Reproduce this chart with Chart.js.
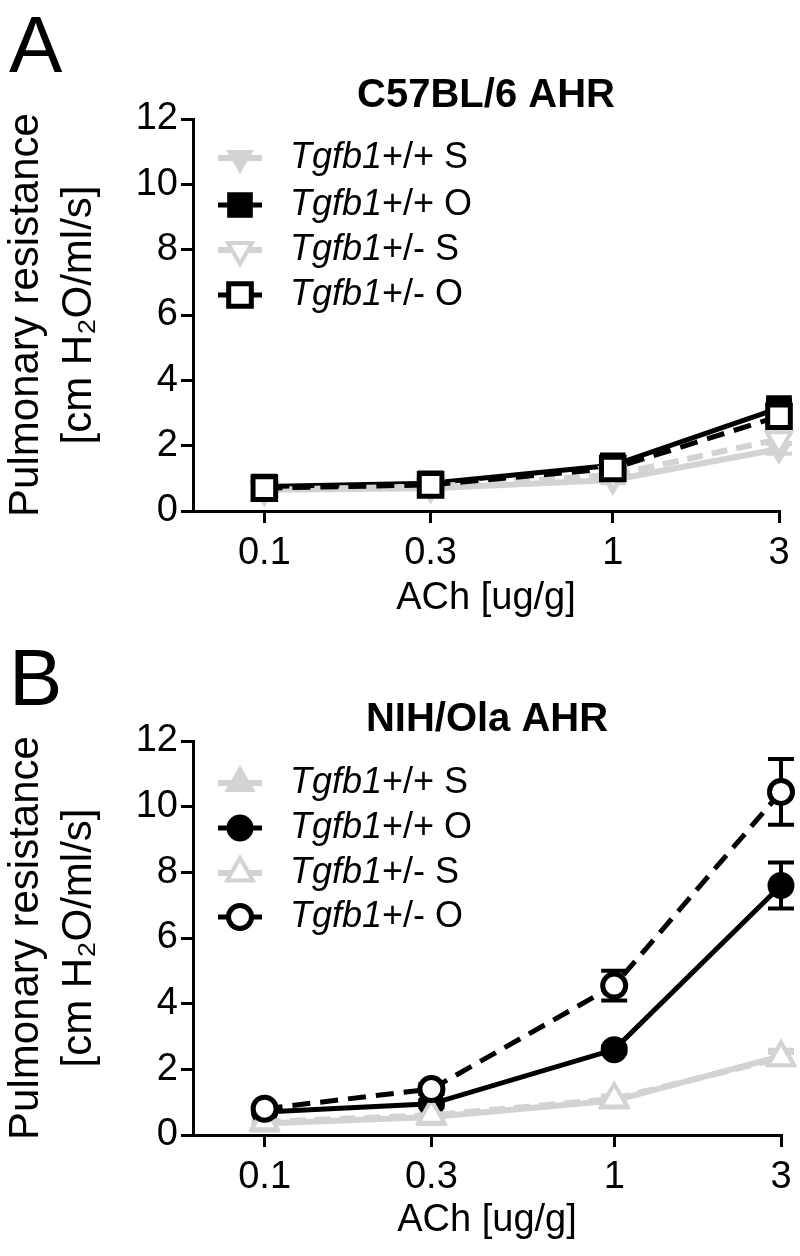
<!DOCTYPE html>
<html><head><meta charset="utf-8">
<script src="https://cdn.jsdelivr.net/npm/chart.js@4.4.1/dist/chart.umd.min.js"></script>
<style>
html,body{margin:0;padding:0;background:#fff;}
#wrap{position:relative;width:800px;height:1256px;}
.panel{position:absolute;left:0;width:800px;height:628px;}
canvas{display:block;}
</style></head><body>
<div id="wrap">
<div class="panel" style="top:0"><canvas id="cA" width="800" height="628"></canvas></div>
<div class="panel" style="top:628px"><canvas id="cB" width="800" height="628"></canvas></div>
</div>
<script>
// ---- data ----
const doses = [0.1, 0.3, 1, 3];
const xTickLabels = ['0.1', '0.3', '1', '3'];
const yTicks = [0, 2, 4, 6, 8, 10, 12];
const genePart = 'Tgfb1';
const seriesSuffix = ['+/+ S', '+/+ O', '+/- S', '+/- O'];

// Panel A: C57BL/6
const aWtS  = [0.65, 0.70, 0.95, 1.90];
const aWtO  = [0.75, 0.85, 1.40, 3.15];
const aHetS = [0.65, 0.75, 1.10, 2.20];
const aHetO = [0.70, 0.80, 1.30, 2.90];
const aWtSErr  = [0.05, 0.05, 0.10, 0.15];
const aWtOErr  = [0.05, 0.05, 0.10, 0.25];
const aHetSErr = [0.05, 0.05, 0.10, 0.15];
const aHetOErr = [0.05, 0.05, 0.10, 0.20];

// Panel B: NIH/Ola
const bWtS  = [0.35, 0.55, 1.05, 2.40];
const bWtO  = [0.70, 0.95, 2.60, 7.60];
const bHetS = [0.40, 0.60, 1.10, 2.35];
const bHetO = [0.80, 1.40, 4.55, 10.45];
const bWtSErr  = [0.05, 0.05, 0.10, 0.20];
const bWtOErr  = [0.05, 0.10, 0.10, 0.70];
const bHetSErr = [0.05, 0.05, 0.10, 0.15];
const bHetOErr = [0.10, 0.15, 0.45, 1.00];

const FONT = "'Liberation Sans', Arial, sans-serif";
const GRAY = '#d3d3d3';
const BLACK = '#000000';

function makeDatasets(vals, errs, shapes) {
  const look = [
    {border: GRAY,  fill: GRAY,    dash: [],       width: 6, bw: 2},
    {border: BLACK, fill: BLACK,   dash: [],       width: 5, bw: 3},
    {border: GRAY,  fill: '#fff',  dash: [16, 9],  width: 6, bw: 4},
    {border: BLACK, fill: '#fff',  dash: [18, 10], width: 5, bw: 5}
  ];
  return vals.map((v, i) => ({
    label: genePart + seriesSuffix[i],
    data: doses.map((d, j) => ({x: d, y: v[j]})),
    errs: errs[i],
    borderColor: look[i].border,
    backgroundColor: look[i].fill,
    borderWidth: look[i].width,
    borderDash: look[i].dash,
    pointStyle: shapes[i].style,
    pointRotation: shapes[i].rot,
    pointRadius: shapes[i].r,
    pointBorderWidth: look[i].bw,
    pointBorderColor: look[i].border,
    pointBackgroundColor: look[i].fill,
    tension: 0,
    clip: false,
    order: 4 - i
  }));
}

const panelPlugin = {
  id: 'panelDeco',
  beforeDatasetsDraw(chart) {
    const ctx = chart.ctx;
    const xs = chart.scales.x, ys = chart.scales.y;
    ctx.save();
    ctx.setLineDash([]);
    chart.data.datasets.forEach(ds => {
      ctx.strokeStyle = ds.borderColor;
      ctx.lineWidth = 4;
      ds.data.forEach((p, j) => {
        const e = ds.errs[j];
        const px = xs.getPixelForValue(p.x);
        const y1 = ys.getPixelForValue(p.y + e), y2 = ys.getPixelForValue(p.y - e);
        ctx.beginPath();
        ctx.moveTo(px, y1); ctx.lineTo(px, y2);
        ctx.moveTo(px - 13, y1); ctx.lineTo(px + 13, y1);
        ctx.moveTo(px - 13, y2); ctx.lineTo(px + 13, y2);
        ctx.stroke();
      });
    });
    ctx.restore();
  },
  afterDraw(chart) {
    const o = chart.options.plugins.panelDeco;
    const ctx = chart.ctx;
    const ca = chart.chartArea;
    ctx.save();
    // panel letter
    ctx.fillStyle = '#000';
    ctx.font = '80px ' + FONT;
    ctx.textAlign = 'left';
    ctx.textBaseline = 'alphabetic';
    ctx.fillText(o.letter, 9, o.letterY);
    // title
    ctx.font = 'bold 40px ' + FONT;
    ctx.textAlign = 'center';
    ctx.textBaseline = 'middle';
    ctx.fillText(o.title, (ca.left + ca.right) / 2, o.titleY);
    // legend
    chart.data.datasets.forEach((ds, i) => {
      const y = o.legendY[i];
      ctx.setLineDash([]);
      ctx.strokeStyle = ds.borderColor;
      ctx.lineWidth = ds.borderWidth;
      ctx.beginPath();
      ctx.moveTo(218, y); ctx.lineTo(262, y);
      ctx.stroke();
      ctx.fillStyle = ds.pointBackgroundColor;
      ctx.strokeStyle = ds.pointBorderColor;
      ctx.lineWidth = ds.pointBorderWidth;
      Chart.helpers.drawPoint(ctx, {
        pointStyle: ds.pointStyle, rotation: ds.pointRotation,
        radius: ds.pointRadius, borderWidth: ds.pointBorderWidth
      }, 240, y);
      ctx.fillStyle = '#000';
      ctx.textAlign = 'left';
      ctx.textBaseline = 'middle';
      ctx.font = 'italic 36px ' + FONT;
      ctx.fillText(genePart, 290, y);
      const w = ctx.measureText(genePart).width;
      ctx.font = '36px ' + FONT;
      ctx.fillText(seriesSuffix[i], 290 + w, y);
    });
    ctx.restore();
  }
};

function makeChart(id, datasets, deco, topPad, bottomH, xTitlePad) {
  return new Chart(document.getElementById(id), {
    type: 'line',
    data: {datasets},
    options: {
      responsive: false,
      animation: false,
      events: [],
      layout: {padding: {top: topPad, right: 15, left: 0, bottom: 0}},
      plugins: {legend: {display: false}, tooltip: {enabled: false}, title: {display: false}, panelDeco: deco},
      scales: {
        x: {
          type: 'logarithmic',
          min: 0.0624, max: 3,
          afterBuildTicks: s => { s.ticks = doses.map(v => ({value: v})); },
          afterFit: s => { s.height = bottomH; },
          ticks: {
            autoSkip: false, maxRotation: 0, padding: 8, color: '#000',
            font: {family: FONT, size: 38},
            callback: v => xTickLabels[doses.indexOf(v)]
          },
          grid: {drawOnChartArea: false, drawTicks: true, tickLength: 12, color: '#000', lineWidth: 3},
          border: {display: true, color: '#000', width: 3},
          title: {display: true, text: 'ACh [ug/g]', color: '#000', font: {family: FONT, size: 38, lineHeight: 1.2}, padding: {top: 0, bottom: xTitlePad}}
        },
        y: {
          min: 0, max: 12,
          afterBuildTicks: s => { s.ticks = yTicks.map(v => ({value: v})); },
          afterFit: s => { s.width = 193; },
          ticks: {padding: 3, color: '#000', font: {family: FONT, size: 38}},
          grid: {drawOnChartArea: false, drawTicks: true, tickLength: 12, color: '#000', lineWidth: 3},
          border: {display: true, color: '#000', width: 3},
          title: {display: true, text: ['Pulmonary resistance', '[cm H\u2082O/ml/s]'], color: '#000',
                  font: {family: FONT, size: 42, lineHeight: 1.26}, padding: {top: 0, bottom: 0}}
        }
      }
    },
    plugins: [panelPlugin]
  });
}

const shapesA = [
  {style: 'triangle', rot: 180, r: 14},
  {style: 'rect', rot: 0, r: 16},
  {style: 'triangle', rot: 180, r: 14},
  {style: 'rect', rot: 0, r: 16}
];
const shapesB = [
  {style: 'triangle', rot: 0, r: 16},
  {style: 'circle', rot: 0, r: 12},
  {style: 'triangle', rot: 0, r: 15},
  {style: 'circle', rot: 0, r: 11.5}
];

makeChart('cA',
  makeDatasets([aWtS, aWtO, aHetS, aHetO], [aWtSErr, aWtOErr, aHetSErr, aHetOErr], shapesA),
  {letter: 'A', letterY: 72, title: 'C57BL/6 AHR', titleY: 96, legendY: [158, 205, 250, 295]},
  119, 117, 7);
makeChart('cB',
  makeDatasets([bWtS, bWtO, bHetS, bHetO], [bWtSErr, bWtOErr, bHetSErr, bHetOErr], shapesB),
  {letter: 'B', letterY: 77, title: 'NIH/Ola AHR', titleY: 92, legendY: [155, 200, 245, 289]},
  113, 121, 13);
</script>
</body></html>
